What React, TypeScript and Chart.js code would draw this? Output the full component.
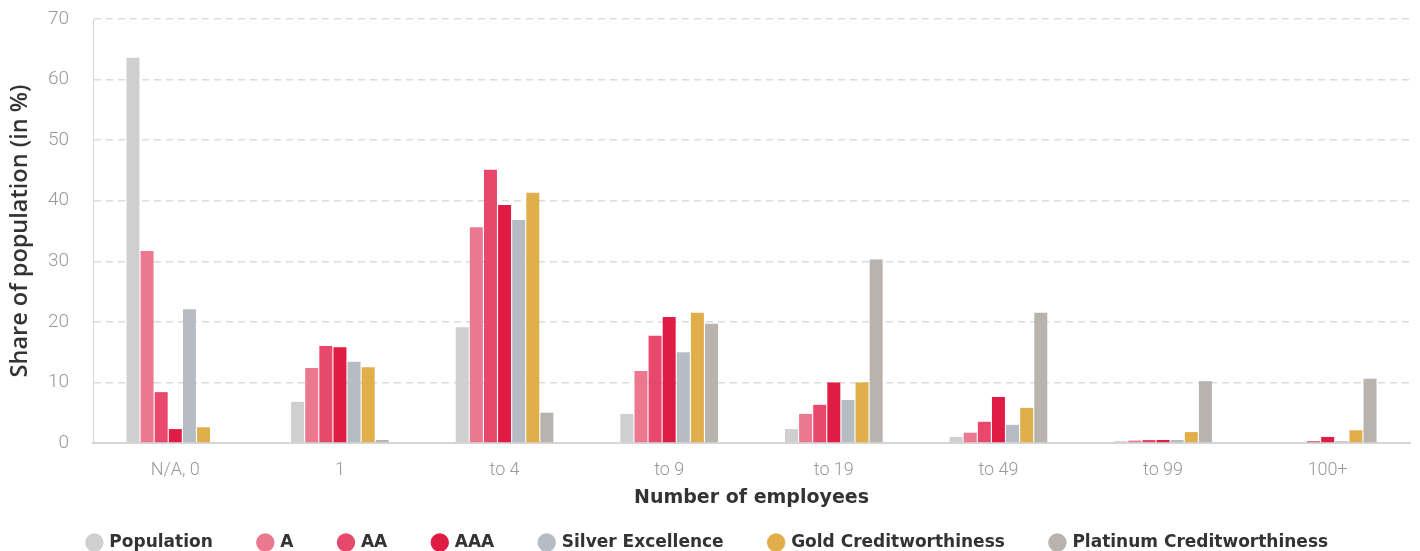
import React, { useEffect, useRef } from "react";
import { Chart, registerables } from "chart.js";

Chart.register(...registerables);

const categories = ["N/A, 0", "1", "to 4", "to 9", "to 19", "to 49", "to 99", "100+"];
const seriesNames = ["Population", "A", "AA", "AAA", "Silver Excellence", "Gold Creditworthiness", "Platinum Creditworthiness"];
const population = [63.6, 6.8, 19.1, 4.8, 2.3, 1.0, 0.3, 0];
const ratingA = [31.7, 12.4, 35.6, 11.9, 4.8, 1.7, 0.4, 0];
const ratingAA = [8.4, 16.0, 45.1, 17.7, 6.3, 3.5, 0.5, 0.3];
const ratingAAA = [2.3, 15.8, 39.3, 20.8, 10.0, 7.6, 0.5, 1.0];
const silver = [22.1, 13.4, 36.8, 15.0, 7.1, 3.0, 0.5, 0.3];
const gold = [2.6, 12.5, 41.3, 21.5, 10.0, 5.8, 1.8, 2.1];
const platinum = [0, 0.5, 5.0, 19.7, 30.3, 21.5, 10.2, 10.6];
const yTicks = [0, 10, 20, 30, 40, 50, 60, 70];
const colors = ["#cfcfcf", "#ec7890", "#e8486c", "#e01c45", "#b6bcc4", "#e0af4c", "#b8b3ad"];

const LEGEND_PAD = 46;

const legendHeightPlugin = {
  id: "legendHeight",
  afterInit(chart: any) {
    const lg = chart.legend;
    if (!lg || lg.__patched) return;
    lg.__patched = true;
    const orig = lg.fit;
    lg.fit = function () {
      orig.call(this);
      this.height = LEGEND_PAD + 17;
    };
  },
};

export default function App() {
  const ref = useRef<HTMLCanvasElement>(null);
  useEffect(() => {
    const values = [population, ratingA, ratingAA, ratingAAA, silver, gold, platinum];
    const chart = new Chart(ref.current!, {
      type: "bar",
      data: {
        labels: categories,
        datasets: seriesNames.map((n, i) => ({
          label: n,
          data: values[i],
          backgroundColor: colors[i],
          borderWidth: 0,
          barPercentage: 0.92,
          categoryPercentage: 0.6,
        })),
      },
      plugins: [legendHeightPlugin],
      options: {
        animation: false,
        responsive: true,
        maintainAspectRatio: false,
        layout: { padding: { left: 6, right: 10, top: 0, bottom: 0 } },
        plugins: {
          tooltip: { enabled: false },
          legend: {
            position: "bottom",
            labels: {
              usePointStyle: true,
              pointStyle: "circle",
              boxWidth: 13,
              boxHeight: 13,
              padding: LEGEND_PAD,
              color: "#333",
              font: { family: "DejaVu Sans", size: 17, weight: "bold" },
            },
          },
        },
        scales: {
          x: {
            grid: { display: false, drawTicks: false },
            border: { display: true, color: "#d6d6d6", width: 2 },
            ticks: { color: "#999", font: { family: "Roboto", size: 18, weight: "300" }, padding: 17 },
            title: {
              display: true,
              text: "Number of employees",
              color: "#333",
              font: { family: "DejaVu Sans", size: 19, weight: "bold" },
              padding: { top: 0, bottom: -21 },
            },
            afterFit: (scale: any) => {
              scale.height = 45;
            },
          },
          y: {
            min: 0,
            max: 70,
            afterBuildTicks: (axis: any) => {
              axis.ticks = yTicks.map((v) => ({ value: v }));
            },
            afterFit: (scale: any) => {
              scale.width = 87;
              scale.paddingTop = 19;
              scale.paddingBottom = 12;
            },
            grid: {
              color: "#dcdcdc",
              lineWidth: 1.5,
              drawTicks: false,
            },
            border: { display: true, color: "#d6d6d6", width: 1, dash: [7, 5] },
            ticks: { color: "#999", font: { family: "Roboto", size: 19, weight: "300" }, padding: 24 },
            title: {
              display: true,
              text: "Share of population (in %)",
              color: "#333",
              font: { family: "Open Sans", size: 23.5, weight: "600" },
              padding: { top: 0, bottom: 0 },
            },
          },
        },
      },
    });
    return () => chart.destroy();
  }, []);
  return (
    <div style={{ position: "absolute", left: 0, top: 0, width: 1420, height: 551 }}>
      <canvas ref={ref} />
    </div>
  );
}
